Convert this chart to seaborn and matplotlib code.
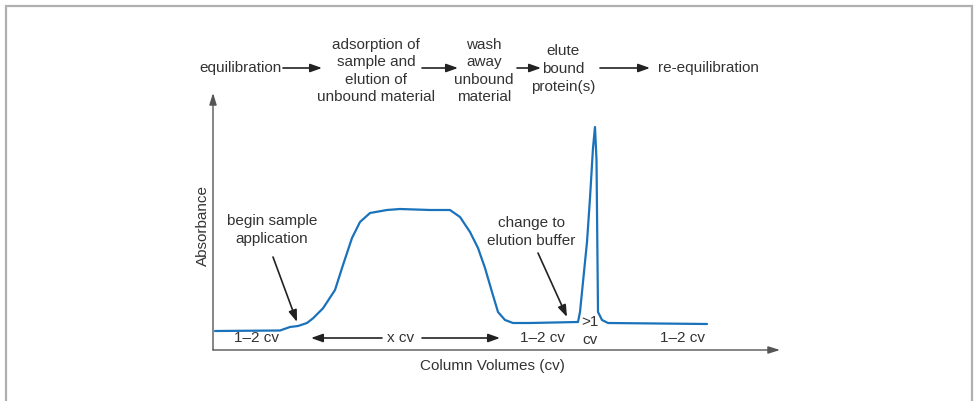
import matplotlib
matplotlib.use("Agg")
from matplotlib import pyplot as plt
from matplotlib.patches import Rectangle
import seaborn as sns
import pandas as pd

# absorbance trace (arbitrary units)
column_volume = [2, 67, 77, 85, 94, 100, 110, 122, 130, 139, 147, 157, 174, 187,
                 217, 237, 247, 257, 265, 272, 279, 285, 292, 300, 317,
                 365, 367, 370, 374, 377, 380, 382, 383.5, 385, 389, 395, 494]
absorbance = [19, 19.5, 23, 24, 27, 31.7, 41.7, 60, 85, 112, 128, 137, 140, 141,
              140, 140, 133, 118, 102, 82, 58, 38, 30, 27, 27,
              28, 38, 68, 108, 152, 202, 223, 190, 38, 30, 27, 26]

steps = ["equilibration", "adsorption of\nsample and\nelution of\nunbound material",
         "wash\naway\nunbound\nmaterial", "elute\nbound\nprotein(s)", "re-equilibration"]
segment_labels = ["1\u20132 cv", "x cv", "1\u20132 cv", ">1\ncv", "1\u20132 cv"]

df = pd.DataFrame({"cv": column_volume, "abs": absorbance})

sns.set_style("white")
plt.rcParams["font.family"] = ["Liberation Sans", "DejaVu Sans"]
FS = 11
TXT = "#333333"
LS = 1.32

fig = plt.figure(figsize=(9.74, 4.01), dpi=100)
W, H = 974, 401
ax = fig.add_axes([213 / W, (H - 350) / H, (780 - 213) / W, (350 - 93) / H])
ax.set_xlim(0, 567)
ax.set_ylim(0, 257)

sns.lineplot(data=df, x="cv", y="abs", ax=ax, sort=False, estimator=None,
             color="#1a72bb", linewidth=1.6)

for s in ax.spines.values():
    s.set_visible(False)
ax.set_xticks([])
ax.set_yticks([])
ax.set_xlabel("")
ax.set_ylabel("")

arrow = dict(arrowstyle="-|>,head_length=0.7,head_width=0.25", color="#222222",
             lw=1.2, shrinkA=0, shrinkB=0)
axis_arrow = dict(arrowstyle="-|>,head_length=0.7,head_width=0.22", color="#555555",
                  lw=1.0, shrinkA=0, shrinkB=0)

# axes drawn as arrows
ax.annotate("", xy=(0, 257), xytext=(0, 0), arrowprops=axis_arrow, annotation_clip=False)
ax.annotate("", xy=(567, 0), xytext=(0, 0), arrowprops=axis_arrow, annotation_clip=False)
ax.text(-10, 125, "Absorbance", rotation=90, ha="center", va="center", fontsize=FS, color=TXT)
ax.text(279, -16, "Column Volumes (cv)", ha="center", va="center", fontsize=FS, color=TXT)

# callouts
ax.text(59, 120, "begin sample\napplication", ha="center", va="center",
        fontsize=FS, color=TXT, linespacing=LS)
ax.annotate("", xy=(84, 28), xytext=(60, 93), arrowprops=arrow)
ax.text(318, 118, "change to\nelution buffer", ha="center", va="center",
        fontsize=FS, color=TXT, linespacing=LS)
ax.annotate("", xy=(354, 33), xytext=(325, 97), arrowprops=arrow)

# segment labels under the trace
seg_x = [44, 188, 330, 377, 469]
seg_y = [12, 12, 12, 19, 12]
for lab, x, y in zip(segment_labels, seg_x, seg_y):
    ax.text(x, y, lab, ha="center", va="center", fontsize=FS, color=TXT, linespacing=LS)
ax.annotate("", xy=(98, 12), xytext=(169, 12), arrowprops=arrow)
ax.annotate("", xy=(287, 12), xytext=(209, 12), arrowprops=arrow)

# process flow across the top
step_x = [28, 163, 271, 350, 495]
step_y = [282, 279, 279, 281, 282]
for lab, x, y in zip(steps, step_x, step_y):
    ax.text(x, y, lab, ha="center", va="center", fontsize=FS, color=TXT,
            linespacing=LS, clip_on=False)
for x0, x1 in [(70, 109), (209, 245), (304, 328), (387, 437)]:
    ax.annotate("", xy=(x1, 282), xytext=(x0, 282), arrowprops=arrow, annotation_clip=False)

# outer frame
fig.patches.append(Rectangle((5.5 / W, -0.05), (972 - 5.5) / W, 1.05 - 5.5 / H,
                             transform=fig.transFigure, fill=False,
                             edgecolor="#b0b0b0", linewidth=1.6))

fig.savefig("out.png", dpi=100)
